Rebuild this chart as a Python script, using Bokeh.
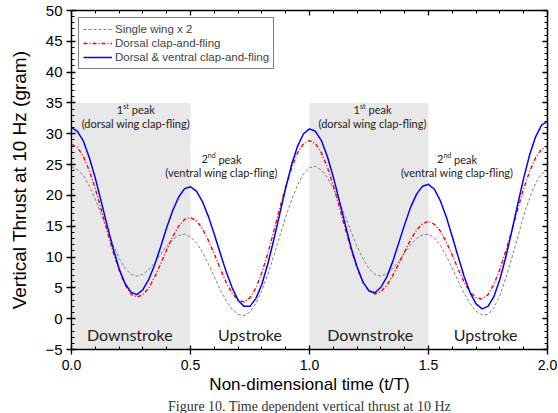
from bokeh.plotting import figure
from bokeh.models import (Range1d, LinearAxis, SingleIntervalTicker, NumeralTickFormatter,
                          Legend, LegendItem, Title, CustomJSTickFormatter)
from bokeh.core.properties import value
from bokeh.embed import file_html
from bokeh.resources import INLINE

# ---------------- data ----------------
time = [round(i * 0.025, 3) for i in range(81)]  # t/T sampling grid, 0 .. 2

single_wing_x2 = [24.6, 24.2, 23.2, 21.5, 19.4, 16.9, 14.4, 12.0, 9.8, 8.2, 7.2,
                  6.9, 7.2, 8.0, 9.1, 10.5, 11.8, 12.8, 13.5, 13.7,
                  13.3, 12.3, 10.8, 8.9, 6.8, 4.7, 2.9, 1.5, 0.7, 0.5,
                  1.1, 2.5, 4.6, 7.2, 10.2, 13.4, 16.5, 19.3, 21.7, 23.5,
                  24.5, 24.7, 24.1, 22.9, 21.2, 19.0, 16.6, 14.1, 11.7, 9.7, 8.1,
                  7.2, 6.9, 7.3, 8.1, 9.3, 10.7, 12.0, 13.0, 13.6,
                  13.7, 13.1, 11.9, 10.2, 8.2, 6.1, 4.1, 2.4, 1.2, 0.6,
                  0.7, 1.8, 3.8, 6.6, 9.8, 13.3, 16.7, 19.6, 22.0, 23.5, 24.0]

dorsal_clap_fling = [28.3, 27.8, 26.3, 24.0, 21.1, 17.7, 14.2, 10.8, 7.9, 5.5, 4.0,
                     3.5, 3.9, 5.0, 6.8, 8.9, 11.2, 13.3, 15.0, 16.1,
                     16.4, 15.9, 14.6, 12.7, 10.5, 8.1, 5.9, 4.1, 3.0, 2.7,
                     3.4, 5.0, 7.5, 10.6, 14.2, 17.9, 21.4, 24.5, 26.9, 28.4,
                     28.9, 28.4, 26.9, 24.6, 21.6, 18.2, 14.6, 11.2, 8.2, 5.9, 4.5,
                     4.0, 4.4, 5.4, 7.0, 8.9, 10.9, 12.8, 14.4, 15.4,
                     15.8, 15.3, 14.2, 12.4, 10.3, 8.0, 5.9, 4.3, 3.4, 3.2,
                     3.9, 5.6, 8.0, 11.0, 14.3, 17.8, 21.1, 23.9, 26.1, 27.5, 28.0]

dorsal_ventral_clap_fling = [31.0, 30.4, 28.8, 26.1, 22.8, 19.0, 15.1, 11.4, 8.1, 5.7, 4.3,
                             3.9, 4.7, 6.4, 8.8, 11.7, 14.8, 17.5, 19.7, 21.1,
                             21.4, 20.7, 19.0, 16.6, 13.7, 10.6, 7.6, 5.0, 3.0, 2.0,
                             2.0, 3.3, 5.6, 8.9, 12.8, 17.0, 21.2, 25.0, 28.0, 30.0,
                             30.8, 30.4, 28.9, 26.3, 23.0, 19.2, 15.3, 11.5, 8.4, 5.9, 4.5,
                             4.2, 5.1, 6.8, 9.3, 12.3, 15.3, 18.1, 20.2, 21.5,
                             21.8, 21.0, 19.1, 16.5, 13.3, 10.0, 6.8, 4.2, 2.4, 1.6,
                             2.0, 3.6, 6.4, 10.0, 14.2, 18.6, 22.8, 26.6, 29.5, 31.4, 32.0]

series_labels = ["Single wing x 2", "Dorsal clap-and-fling", "Dorsal & ventral clap-and-fling"]

downstroke_start = [0.0, 1.0]
downstroke_end = [0.5, 1.5]
shade_bottom = -5
shade_top = 35

caption = "Figure 10. Time dependent vertical thrust at 10 Hz"

# ---------------- figure ----------------
AX_FONT = "Liberation Sans"
NOTE_FONT = "Lato"

p = figure(width=558, height=413, x_range=Range1d(0, 2), y_range=Range1d(-5, 50),
           output_backend="svg", toolbar_location=None,
           min_border_left=71, min_border_right=11, min_border_top=10, min_border_bottom=0)
p.grid.visible = False
p.background_fill_color = "white"
p.border_fill_color = "white"
p.outline_line_color = "black"
p.outline_line_width = 1.2

# shaded downstroke regions
p.quad(left=downstroke_start, right=downstroke_end, bottom=shade_bottom, top=shade_top,
       fill_color="#e8e8e8", line_color=None)

# curves
r_gray = p.line(time, single_wing_x2, line_color="#808080", line_width=1.0, line_dash="3 2")
r_red = p.line(time, dorsal_clap_fling, line_color="#ff0000", line_width=1.4, line_dash="4 2 1 2")
r_blue = p.line(time, dorsal_ventral_clap_fling, line_color="#0000ff", line_width=1.5)

# axes
xa = p.xaxis[0]
xa.ticker = SingleIntervalTicker(interval=0.5, num_minor_ticks=5)
xa.formatter = NumeralTickFormatter(format="0.0")
xa.axis_label = "Non-dimensional time (t/T)"
ya = p.yaxis[0]
ya.ticker = SingleIntervalTicker(interval=5, num_minor_ticks=5)
ya.axis_label = "Vertical Thrust at 10 Hz (gram)"

for ax, fs, tfs in ((xa, "14px", "17px"), (ya, "15px", "19px")):
    ax.major_label_text_font = AX_FONT
    ax.major_label_text_font_size = fs
    ax.major_label_text_color = "black"
    ax.axis_label_text_font = AX_FONT
    ax.axis_label_text_font_size = tfs
    ax.axis_label_text_font_style = "normal"
    ax.axis_label_text_color = "black"
    ax.axis_line_color = "black"
    ax.axis_line_width = 1.3
    ax.major_tick_line_color = "black"
    ax.major_tick_line_width = 1.3
    ax.minor_tick_line_color = "black"
    ax.minor_tick_line_width = 1.0
    ax.major_tick_in = 4
    ax.major_tick_out = 5
    ax.minor_tick_in = 3
    ax.minor_tick_out = 0

xa.major_label_standoff = 5
xa.axis_label_standoff = 2
ya.major_label_standoff = 4
ya.axis_label_standoff = 12

empty = CustomJSTickFormatter(code="return ''")
top = LinearAxis(ticker=SingleIntervalTicker(interval=0.5, num_minor_ticks=5), formatter=empty)
right = LinearAxis(ticker=SingleIntervalTicker(interval=5, num_minor_ticks=5), formatter=empty)
for ax in (top, right):
    ax.axis_line_color = "black"
    ax.axis_line_width = 1.3
    ax.major_tick_line_color = "black"
    ax.major_tick_line_width = 1.3
    ax.minor_tick_line_color = "black"
    ax.minor_tick_line_width = 1.0
    ax.major_tick_in = 5
    ax.major_tick_out = 0
    ax.minor_tick_in = 3
    ax.minor_tick_out = 0
    ax.major_label_standoff = 0
    ax.major_label_text_font_size = "1px"
p.add_layout(top, "above")
p.add_layout(right, "right")

# figure caption (bottom of the reference image), below the x-axis title
p.add_layout(Title(text=caption, align="center", text_font="Liberation Serif",
                   text_font_size="14px", text_font_style="normal", text_color="#333333",
                   standoff=0, offset=0), "below")

# legend
legend = Legend(items=[LegendItem(label=series_labels[0], renderers=[r_gray]),
                       LegendItem(label=series_labels[1], renderers=[r_red]),
                       LegendItem(label=series_labels[2], renderers=[r_blue])],
                location="top_left", margin=7, padding=4, spacing=0,
                label_text_font=AX_FONT, label_text_font_size="11.5px",
                label_height=14, glyph_height=14, glyph_width=29, label_standoff=3,
                border_line_color="black", border_line_width=1,
                background_fill_color="white", background_fill_alpha=1)
p.add_layout(legend)

# annotations inside the plot
peak1_x = [0.27, 1.265]
peak2_x = [0.63, 1.62]
NOTE_C = "#222222"

def note(xs, y, txt, size, xo=0, yo=0, align="center"):
    p.text(x=xs, y=[y] * len(xs), text=[txt] * len(xs), text_font=value(NOTE_FONT),
           text_font_size=size, text_align=align, text_baseline="middle",
           x_offset=xo, y_offset=yo, text_color=NOTE_C)

note(peak1_x, 33.9, "1", "11px", xo=-19, align="left")
note(peak1_x, 33.9, "st", "7px", xo=-12.5, yo=-4, align="left")
note(peak1_x, 33.9, "peak", "11px", xo=-4, align="left")
note(peak1_x, 31.7, "(dorsal wing clap-fling)", "11px")

note(peak2_x, 25.9, "2", "11px", xo=-20, align="left")
note(peak2_x, 25.9, "nd", "7px", xo=-13.6, yo=-4, align="left")
note(peak2_x, 25.9, "peak", "11px", xo=-3, align="left")
note(peak2_x, 23.7, "(ventral wing clap-fling)", "11px")

stroke_label_y = -2.5
note([0.245, 1.255], stroke_label_y, "Downstroke", "16px")
note([0.75, 1.74], stroke_label_y, "Upstroke", "16px")

open("out.html", "w").write(file_html(p, INLINE))
